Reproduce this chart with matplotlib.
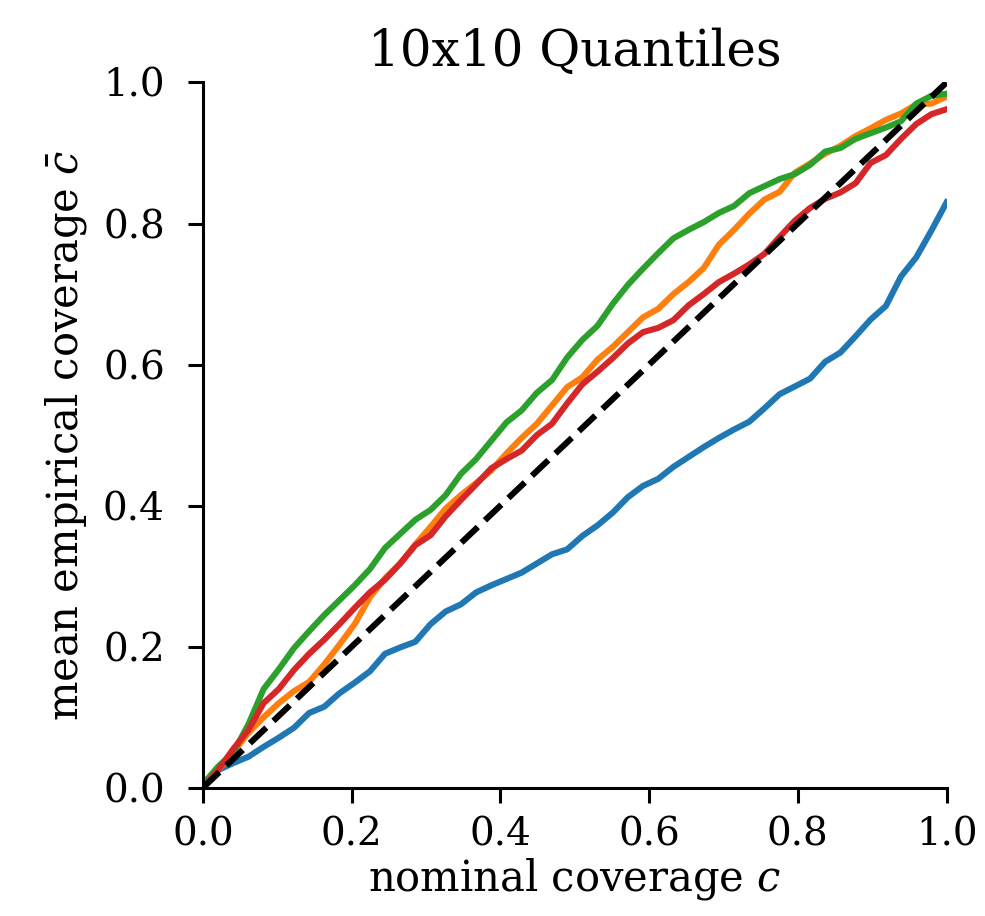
import numpy as np
import matplotlib
matplotlib.use('Agg')
import matplotlib.pyplot as plt

plt.rcParams['font.family'] = 'DejaVu Serif'
plt.rcParams['mathtext.fontset'] = 'dejavuserif'
plt.rcParams['axes.linewidth'] = 1.1

nominal = np.linspace(0, 1, 50)

blue = [0.0, 0.025, 0.035, 0.044, 0.058, 0.071, 0.085, 0.106, 0.115, 0.134,
        0.149, 0.165, 0.19, 0.199, 0.207, 0.232, 0.25, 0.26, 0.277, 0.287,
        0.296, 0.305, 0.318, 0.331, 0.338, 0.357, 0.372, 0.39, 0.412, 0.428,
        0.438, 0.455, 0.469, 0.483, 0.496, 0.508, 0.519, 0.538, 0.558, 0.569,
        0.58, 0.604, 0.617, 0.64, 0.664, 0.683, 0.725, 0.752, 0.79, 0.83]
orange = [0.0, 0.025, 0.05, 0.078, 0.10, 0.12, 0.137, 0.15, 0.175, 0.203,
          0.232, 0.27, 0.297, 0.318, 0.345, 0.37, 0.396, 0.415, 0.432, 0.45,
          0.474, 0.496, 0.516, 0.542, 0.568, 0.582, 0.607, 0.625, 0.646, 0.667,
          0.679, 0.70, 0.717, 0.737, 0.77, 0.791, 0.814, 0.834, 0.845, 0.872,
          0.885, 0.899, 0.91, 0.924, 0.935, 0.947, 0.956, 0.969, 0.97, 0.98]
green = [0.005, 0.03, 0.05, 0.09, 0.14, 0.168, 0.198, 0.222, 0.245, 0.266,
         0.287, 0.31, 0.34, 0.36, 0.38, 0.394, 0.415, 0.445, 0.466, 0.492,
         0.518, 0.535, 0.56, 0.578, 0.61, 0.635, 0.655, 0.686, 0.713, 0.736,
         0.758, 0.779, 0.791, 0.802, 0.815, 0.825, 0.843, 0.853, 0.863, 0.87,
         0.883, 0.902, 0.907, 0.92, 0.928, 0.936, 0.945, 0.97, 0.981, 0.984]
red = [0.0, 0.025, 0.055, 0.082, 0.12, 0.14, 0.167, 0.19, 0.21, 0.232,
       0.255, 0.277, 0.295, 0.318, 0.344, 0.358, 0.385, 0.408, 0.43, 0.453,
       0.466, 0.478, 0.5, 0.516, 0.545, 0.572, 0.59, 0.609, 0.63, 0.646,
       0.652, 0.663, 0.684, 0.70, 0.717, 0.729, 0.742, 0.757, 0.781, 0.804,
       0.822, 0.835, 0.844, 0.857, 0.886, 0.897, 0.92, 0.941, 0.955, 0.962]

fig = plt.figure(figsize=(4.925, 4.58), dpi=200)
ax = fig.add_axes([0.206, 0.140, 0.755, 0.770])

for vals, col in [(blue, 'C0'), (orange, 'C1'), (green, 'C2'), (red, 'C3')]:
    ax.plot(nominal, vals, color=col, lw=2.2)
ax.plot([0, 1], [0, 1], 'k--', lw=2.2)

ax.set_xlim(0, 1)
ax.set_ylim(0, 1)
ax.set_xticks([0, 0.2, 0.4, 0.6, 0.8, 1.0])
ax.set_yticks([0, 0.2, 0.4, 0.6, 0.8, 1.0])
ax.tick_params(labelsize=14, length=5.4, width=1.1)
ax.tick_params(axis='x', pad=5)
ax.tick_params(axis='y', pad=8.3)
ax.spines['top'].set_visible(False)
ax.spines['right'].set_visible(False)
ax.set_xlabel('nominal coverage $c$', fontsize=15, labelpad=1)
ax.set_ylabel(r'mean empirical coverage $\bar{c}$', fontsize=15, labelpad=5)
ax.set_title('10x10 Quantiles', fontsize=18)

fig.savefig('out.png')
